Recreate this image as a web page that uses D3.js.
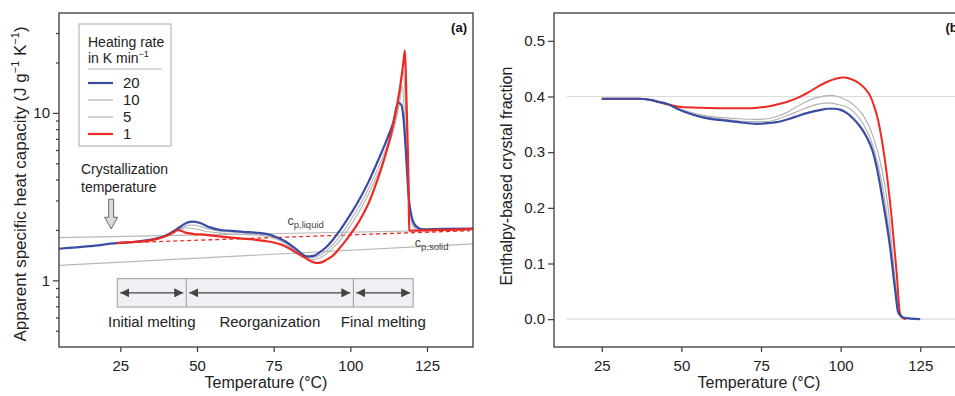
<!DOCTYPE html>
<html>
<head>
<meta charset="utf-8">
<script src="https://cdn.jsdelivr.net/npm/d3@7"></script>
<style>
  html, body { margin: 0; padding: 0; background: #fff; }
  svg { display: block; font-family: "Liberation Sans", Arial, Helvetica, sans-serif; }
</style>
</head>
<body>
<svg id="chart" width="955" height="396"></svg>
<script>
// ---------------- DATA ----------------
const rates = ["20", "10", "5", "1"];
const rateColors = ["#3a4ca3", "#b3b3b3", "#b3b3b3", "#ee2a24"];

// Panel (a): apparent specific heat capacity (J g^-1 K^-1) vs temperature (°C)
const cpT20 = [5, 15, 23.8, 30, 35, 38, 41, 43, 45, 47, 48.5, 51, 54, 57, 60, 65, 70, 73, 76, 79, 82, 84, 85.8, 88, 90, 92, 94, 96, 98, 100, 102, 104, 106, 108, 110, 112, 114, 115.6, 116.6, 117.4, 118.2, 119, 120, 121.5, 123.5, 130, 140];
const cpV20 = [1.544, 1.60, 1.667, 1.70, 1.75, 1.80, 1.90, 2.00, 2.12, 2.22, 2.24, 2.20, 2.08, 2.01, 1.98, 1.95, 1.92, 1.89, 1.81, 1.70, 1.55, 1.45, 1.39, 1.40, 1.47, 1.57, 1.72, 1.92, 2.17, 2.47, 2.84, 3.3, 3.9, 4.7, 5.7, 7.0, 8.8, 11.5, 11.2, 9.0, 5.5, 3.2, 2.4, 2.1, 2.02, 2.03, 2.04];

const cpT10 = [25, 30, 35, 38, 41, 43, 45, 47, 48.5, 51, 54, 57, 60, 65, 70, 73, 76, 79, 82, 84, 86, 88, 90, 92, 94, 96, 98, 100, 102, 104, 106, 108, 110, 112, 114, 116, 116.9, 117.6, 118.4, 119.2, 120, 121.5, 123.5, 130, 140];
const cpV10 = [1.68, 1.70, 1.75, 1.79, 1.88, 1.97, 2.06, 2.13, 2.14, 2.10, 2.02, 1.97, 1.95, 1.93, 1.90, 1.87, 1.79, 1.68, 1.54, 1.44, 1.38, 1.37, 1.41, 1.49, 1.61, 1.78, 1.99, 2.26, 2.6, 3.0, 3.55, 4.25, 5.15, 6.4, 8.2, 11.5, 14.5, 10, 5.5, 3.0, 2.3, 2.06, 2.02, 2.03, 2.04];

const cpT5 = [25, 30, 35, 38, 41, 43, 45, 46.5, 48.5, 51, 54, 57, 60, 65, 70, 73, 76, 79, 82, 84, 86, 88, 90, 92, 94, 96, 98, 100, 102, 104, 106, 108, 110, 112, 114, 116, 117.2, 117.9, 118.6, 119.3, 120, 121.5, 124, 130, 140];
const cpV5 = [1.68, 1.70, 1.76, 1.80, 1.88, 1.96, 2.03, 2.06, 2.04, 2.00, 1.95, 1.92, 1.90, 1.88, 1.86, 1.83, 1.76, 1.65, 1.50, 1.41, 1.35, 1.33, 1.36, 1.43, 1.54, 1.68, 1.87, 2.11, 2.42, 2.8, 3.3, 3.95, 4.8, 6.0, 7.8, 11.5, 18, 12, 6, 3, 2.2, 2.03, 2.01, 2.02, 2.04];

const cpT1 = [23.8, 28, 32.5, 36, 38, 40.5, 42.3, 43.8, 45, 46.6, 49, 51, 55, 59.7, 64, 68.4, 72, 76, 78, 80.3, 83, 85.8, 87.5, 89, 90.5, 92, 94.4, 96, 98, 100, 102, 104, 106, 108, 110, 111.8, 113.5, 115.1, 116.3, 117.3, 117.8, 118.3, 118.7, 119.0, 119.2, 120, 125, 129.2, 135, 139.7];
const cpV1 = [1.667, 1.69, 1.71, 1.75, 1.79, 1.86, 1.93, 2.00, 1.97, 1.92, 1.89, 1.88, 1.85, 1.81, 1.78, 1.754, 1.72, 1.667, 1.62, 1.544, 1.44, 1.346, 1.29, 1.27, 1.28, 1.32, 1.41, 1.52, 1.68, 1.88, 2.12, 2.45, 2.9, 3.6, 4.6, 5.9, 7.8, 10.8, 14.6, 20.0, 23.6, 12, 6.5, 3.5, 2.0, 1.98, 1.99, 2.0, 2.01, 2.03];

// reference heat-capacity baselines
const cpLiquidT = [5, 140];
const cpLiquidV = [1.80, 2.00];
const cpSolidT = [5, 140];
const cpSolidV = [1.23, 1.65];
const baselineT = [24, 139];
const baselineV = [1.67, 1.98];

// phases (°C)
const phaseBounds = [24, 46.5, 101, 120.5];
const phaseNames = ["Initial melting", "Reorganization", "Final melting"];
const crystallizationT = 22;

// Panel (b): enthalpy-based crystal fraction
const fxT20 = [25, 30, 37, 39, 41, 43, 45.4, 49, 52.7, 57, 63.2, 68, 73.6, 77, 81, 84, 87, 90, 93, 96, 98, 100, 102, 104, 106, 108.2, 110, 111.3, 113.4, 115.5, 117.1, 118.1, 119.7, 122, 125];
const fxV20 = [0.396, 0.396, 0.396, 0.395, 0.393, 0.39, 0.387, 0.377, 0.369, 0.362, 0.357, 0.354, 0.351, 0.352, 0.355, 0.360, 0.366, 0.371, 0.375, 0.378, 0.378, 0.376, 0.370, 0.360, 0.347, 0.327, 0.303, 0.274, 0.208, 0.131, 0.054, 0.012, 0.003, 0.001, 0.0];

const fxT10 = [25, 30, 37, 39, 41, 43, 45.4, 49, 52.7, 57, 63.2, 68, 73.6, 77, 80, 83, 86, 89, 92, 95, 97, 99, 102.9, 105, 107.1, 110.3, 113, 115, 116.5, 117.8, 119, 120.5];
const fxV10 = [0.396, 0.396, 0.396, 0.395, 0.393, 0.39, 0.387, 0.378, 0.370, 0.364, 0.359, 0.356, 0.355, 0.355, 0.359, 0.365, 0.372, 0.379, 0.385, 0.388, 0.388, 0.386, 0.378, 0.367, 0.351, 0.309, 0.244, 0.167, 0.083, 0.024, 0.004, 0.0];

const fxT5 = [25, 30, 37, 39, 41, 43, 45.4, 49, 52.7, 57, 63.2, 68, 73.6, 77, 80, 83, 86, 89, 92, 95, 97, 99, 102.9, 105, 107.1, 110.3, 113, 115, 116.5, 117.8, 119, 120.5];
const fxV5 = [0.396, 0.396, 0.396, 0.395, 0.393, 0.39, 0.387, 0.379, 0.372, 0.366, 0.362, 0.360, 0.359, 0.360, 0.364, 0.371, 0.381, 0.390, 0.397, 0.401, 0.402, 0.400, 0.390, 0.380, 0.366, 0.327, 0.268, 0.196, 0.107, 0.036, 0.005, 0.0];

const fxT1 = [25, 30, 37, 39, 41, 43, 46.4, 50, 55, 63, 70, 74, 78, 81, 84, 87, 90, 93, 96, 98.5, 100.8, 103, 106, 108, 109.2, 110.5, 111.8, 113, 113.9, 116, 117.6, 118.6, 119.5, 120.5];
const fxV1 = [0.396, 0.396, 0.396, 0.395, 0.393, 0.39, 0.385, 0.381, 0.380, 0.379, 0.379, 0.380, 0.383, 0.387, 0.392, 0.399, 0.408, 0.418, 0.427, 0.432, 0.434, 0.432, 0.423, 0.412, 0.402, 0.383, 0.357, 0.32, 0.286, 0.184, 0.083, 0.012, 0.002, 0.0];

const fxRefLines = [0.4, 0.0];

// ticks
const xTicksA = [25, 50, 75, 100, 125];
const yMajorA = [1, 10];
const yMinorA = [0.5, 0.6, 0.7, 0.8, 0.9, 2, 3, 4, 5, 6, 7, 8, 9, 20, 30];
const xTicksB = [25, 50, 75, 100, 125];
const yTicksB = [0.0, 0.1, 0.2, 0.3, 0.4, 0.5];

// ---------------- DRAW ----------------
const svg = d3.select("#chart");
const axisColor = "#3a3a3a";
const zip = (T, V) => T.map((t, i) => ({ t, v: V[i] }));

// ===== Panel (a) =====
const A = { l: 59, r: 473, t: 13, b: 347 };
const xA = d3.scaleLinear().domain([5, 140]).range([A.l, A.r]);
const yA = d3.scaleLog().domain([0.4, 39.5]).range([A.b, A.t]);
const lineA = d3.line().x(d => xA(d.t)).y(d => yA(d.v)).curve(d3.curveMonotoneX);

const gA = svg.append("g");
svg.append("clipPath").attr("id", "clipA").append("rect")
  .attr("x", A.l).attr("y", A.t).attr("width", A.r - A.l).attr("height", A.b - A.t);

// baselines
gA.append("path").datum(zip(cpLiquidT, cpLiquidV)).attr("d", lineA)
  .attr("fill", "none").attr("stroke", "#b8b8b8").attr("stroke-width", 1.2);
gA.append("path").datum(zip(cpSolidT, cpSolidV)).attr("d", lineA)
  .attr("fill", "none").attr("stroke", "#b8b8b8").attr("stroke-width", 1.2);
gA.append("path").datum(zip(baselineT, baselineV)).attr("d", lineA)
  .attr("fill", "none").attr("stroke", "#ee2a24").attr("stroke-width", 1.3).attr("stroke-dasharray", "4,3");

// phase box
const boxTop = yA(1.023), boxBot = yA(0.693);
gA.append("rect").attr("x", xA(phaseBounds[0])).attr("y", boxTop)
  .attr("width", xA(phaseBounds[3]) - xA(phaseBounds[0])).attr("height", boxBot - boxTop)
  .attr("fill", "#eef0f4").attr("stroke", "#9a9a9a").attr("stroke-width", 1);
phaseBounds.slice(1, 3).forEach(b => {
  gA.append("line").attr("x1", xA(b)).attr("x2", xA(b)).attr("y1", boxTop).attr("y2", boxBot)
    .attr("stroke", "#9a9a9a").attr("stroke-width", 1);
});
const defs = svg.append("defs");
["s", "e"].forEach(k => {
  defs.append("marker").attr("id", "arr" + k).attr("viewBox", "0 0 10 10")
    .attr("refX", k === "e" ? 10 : 0).attr("refY", 5).attr("markerWidth", 9).attr("markerHeight", 9)
    .attr("markerUnits", "userSpaceOnUse").attr("orient", "auto")
    .append("path").attr("d", k === "e" ? "M0,0 L10,5 L0,10 Z" : "M10,0 L0,5 L10,10 Z").attr("fill", "#444");
});
const arrowY = (boxTop + boxBot) / 2;
for (let i = 0; i < 3; i++) {
  const x1 = xA(phaseBounds[i]) + 3, x2 = xA(phaseBounds[i + 1]) - 3;
  gA.append("line").attr("x1", x1).attr("x2", x2).attr("y1", arrowY).attr("y2", arrowY)
    .attr("stroke", "#444").attr("stroke-width", 1.2)
    .attr("marker-start", "url(#arrs)").attr("marker-end", "url(#arre)");
  gA.append("text").attr("x", (xA(phaseBounds[i]) + xA(phaseBounds[i + 1])) / 2).attr("y", boxBot + 20)
    .attr("text-anchor", "middle").attr("font-size", 15).attr("fill", "#222").text(phaseNames[i]);
}

// curves
const curvesA = [
  { T: cpT10, V: cpV10, c: rateColors[1], w: 1.1 },
  { T: cpT5, V: cpV5, c: rateColors[2], w: 1.1 },
  { T: cpT20, V: cpV20, c: rateColors[0], w: 2.2 },
  { T: cpT1, V: cpV1, c: rateColors[3], w: 2.2 }
];
const curveG = gA.append("g").attr("clip-path", "url(#clipA)");
curvesA.forEach(s => {
  curveG.append("path").datum(zip(s.T, s.V)).attr("d", lineA)
    .attr("fill", "none").attr("stroke", s.c).attr("stroke-width", s.w).attr("stroke-linejoin", "round");
});

// frame + axes
gA.append("rect").attr("x", A.l).attr("y", A.t).attr("width", A.r - A.l).attr("height", A.b - A.t)
  .attr("fill", "none").attr("stroke", axisColor).attr("stroke-width", 1.3);
const axXA = gA.append("g").attr("transform", `translate(0,${A.b})`)
  .call(d3.axisBottom(xA).tickValues(xTicksA).tickSize(5).tickFormat(d3.format("d")));
const axYA = gA.append("g").attr("transform", `translate(${A.l},0)`)
  .call(d3.axisLeft(yA).tickValues(yMajorA).tickSize(6).tickFormat(d3.format("d")));
const axYAm = gA.append("g").attr("transform", `translate(${A.l},0)`)
  .call(d3.axisLeft(yA).tickValues(yMinorA).tickSize(3).tickFormat(""));
[axXA, axYA, axYAm].forEach(g => {
  g.select(".domain").remove();
  g.selectAll("line").attr("stroke", axisColor).attr("stroke-width", 1.2);
  g.selectAll("text").attr("font-size", 15).attr("fill", "#222").style("font-family", "Liberation Sans, Arial, sans-serif");
});
axXA.selectAll("text").attr("dy", "1.05em");

// axis titles
gA.append("text").attr("x", (A.l + A.r) / 2).attr("y", 388).attr("text-anchor", "middle")
  .attr("font-size", 16).attr("fill", "#222").text("Temperature (°C)");
const ytA = gA.append("text").attr("transform", `translate(26,${(A.t + A.b) / 2 + 4}) rotate(-90)`)
  .attr("text-anchor", "middle").attr("font-size", 17).attr("fill", "#222");
ytA.append("tspan").text("Apparent specific heat capacity (J g");
ytA.append("tspan").attr("dy", -7).attr("font-size", 11).text("−1");
ytA.append("tspan").attr("dy", 7).text(" K");
ytA.append("tspan").attr("dy", -7).attr("font-size", 11).text("−1");
ytA.append("tspan").attr("dy", 7).text(")");

// panel label
gA.append("text").attr("x", A.r - 6).attr("y", 32).attr("text-anchor", "end")
  .attr("font-size", 13).attr("font-weight", "bold").attr("fill", "#111").text("(a)");

// legend
const lg = gA.append("g");
lg.append("rect").attr("x", 79).attr("y", 24).attr("width", 92).attr("height", 122)
  .attr("fill", "#fff").attr("stroke", "#a8a8a8").attr("stroke-width", 1);
lg.append("text").attr("x", 88).attr("y", 47).attr("font-size", 14).attr("fill", "#222").text("Heating rate");
const lt2 = lg.append("text").attr("x", 88).attr("y", 63).attr("font-size", 14).attr("fill", "#222");
lt2.append("tspan").text("in K min");
lt2.append("tspan").attr("dy", -6).attr("font-size", 9).text("−1");
lg.append("line").attr("x1", 88).attr("x2", 162).attr("y1", 69).attr("y2", 69).attr("stroke", "#b8b8b8").attr("stroke-width", 1);
rates.forEach((r, i) => {
  const y = 83 + i * 17;
  lg.append("line").attr("x1", 88).attr("x2", 113).attr("y1", y).attr("y2", y)
    .attr("stroke", rateColors[i]).attr("stroke-width", (i === 0 || i === 3) ? 2.2 : 1.2);
  lg.append("text").attr("x", 123).attr("y", y + 5).attr("font-size", 15).attr("fill", "#222").text(r);
});

// crystallization annotation
gA.append("text").attr("x", 81).attr("y", 174).attr("font-size", 14).attr("fill", "#222").text("Crystallization");
gA.append("text").attr("x", 81).attr("y", 192).attr("font-size", 14).attr("fill", "#222").text("temperature");
const ax = xA(crystallizationT), aTop = yA(3.05), aTip = yA(2.03), aHead = yA(2.38);
gA.append("path")
  .attr("d", `M${ax - 2.5},${aTop} L${ax + 2.5},${aTop} L${ax + 2.5},${aHead} L${ax + 6.5},${aHead} L${ax},${aTip} L${ax - 6.5},${aHead} L${ax - 2.5},${aHead} Z`)
  .attr("fill", "#d9d9d9").attr("stroke", "#666").attr("stroke-width", 1);

// cp labels
const cl = gA.append("text").attr("x", xA(79.5)).attr("y", yA(2.15)).attr("font-size", 12.5).attr("fill", "#444");
cl.append("tspan").text("c");
cl.append("tspan").attr("dy", 3).attr("font-size", 9.5).text("p,liquid");
const cs = gA.append("text").attr("x", xA(121)).attr("y", yA(1.6) + 1).attr("font-size", 12.5).attr("fill", "#444");
cs.append("tspan").text("c");
cs.append("tspan").attr("dy", 3).attr("font-size", 9.5).text("p,solid");

// ===== Panel (b) =====
const B = { l: 554, r: 968, t: 13, b: 347 };
const xB = d3.scaleLinear().domain([10, 140]).range([B.l, B.r]);
const yB = d3.scaleLinear().domain([-0.05, 0.55]).range([B.b, B.t]);
const lineB = d3.line().x(d => xB(d.t)).y(d => yB(d.v)).curve(d3.curveMonotoneX);
const gB = svg.append("g");

fxRefLines.forEach(v => {
  gB.append("line").attr("x1", xB(14)).attr("x2", B.r).attr("y1", yB(v)).attr("y2", yB(v))
    .attr("stroke", "#dcdcdc").attr("stroke-width", 1.2);
});
const curvesB = [
  { T: fxT10, V: fxV10, c: rateColors[1], w: 1.2 },
  { T: fxT5, V: fxV5, c: rateColors[2], w: 1.2 },
  { T: fxT1, V: fxV1, c: rateColors[3], w: 2.0 },
  { T: fxT20, V: fxV20, c: rateColors[0], w: 2.2 }
];
curvesB.forEach(s => {
  gB.append("path").datum(zip(s.T, s.V)).attr("d", lineB)
    .attr("fill", "none").attr("stroke", s.c).attr("stroke-width", s.w).attr("stroke-linejoin", "round");
});
gB.append("rect").attr("x", B.l).attr("y", B.t).attr("width", B.r - B.l).attr("height", B.b - B.t)
  .attr("fill", "none").attr("stroke", axisColor).attr("stroke-width", 1.3);
const axXB = gB.append("g").attr("transform", `translate(0,${B.b})`)
  .call(d3.axisBottom(xB).tickValues(xTicksB).tickSize(5).tickFormat(d3.format("d")));
const axYB = gB.append("g").attr("transform", `translate(${B.l},0)`)
  .call(d3.axisLeft(yB).tickValues(yTicksB).tickSize(6).tickFormat(d3.format(".1f")));
[axXB, axYB].forEach(g => {
  g.select(".domain").remove();
  g.selectAll("line").attr("stroke", axisColor).attr("stroke-width", 1.2);
  g.selectAll("text").attr("font-size", 15).attr("fill", "#222").style("font-family", "Liberation Sans, Arial, sans-serif");
});
axXB.selectAll("text").attr("dy", "1.05em");
gB.append("text").attr("x", (B.l + B.r) / 2 - 2).attr("y", 388).attr("text-anchor", "middle")
  .attr("font-size", 16).attr("fill", "#222").text("Temperature (°C)");
gB.append("text").attr("transform", `translate(512,176) rotate(-90)`)
  .attr("text-anchor", "middle").attr("font-size", 16).attr("fill", "#222").text("Enthalpy-based crystal fraction");
gB.append("text").attr("x", B.r - 6).attr("y", 32).attr("text-anchor", "end")
  .attr("font-size", 13).attr("font-weight", "bold").attr("fill", "#111").text("(b)");
</script>
</body>
</html>
